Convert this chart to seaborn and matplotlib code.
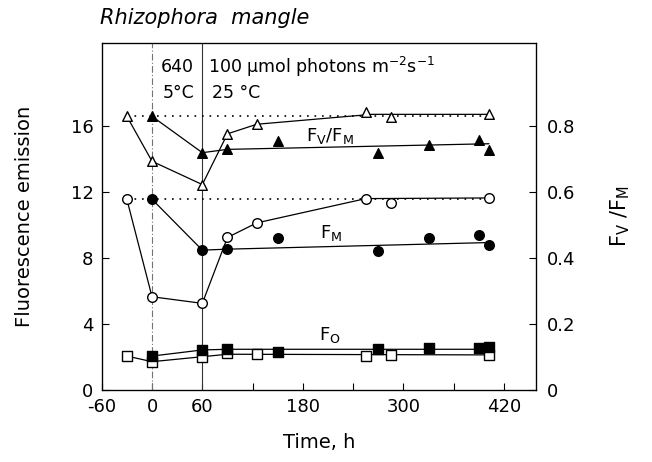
import matplotlib
matplotlib.use("Agg")
import matplotlib.pyplot as plt
import seaborn as sns
import pandas as pd

# ---- data, left-axis units ----
# Fv/Fm shown on left scale (= right value * 20)
fvfm_open_x = [-30, 0, 60, 90, 125, 255, 285, 402]
fvfm_open_y = [16.56, 13.84, 12.43, 15.5, 16.08, 16.82, 16.51, 16.68]
fvfm_open_line_x = [-30, 0, 60, 90, 125, 262, 402]
fvfm_open_line_y = [16.56, 13.84, 12.43, 15.5, 16.08, 16.68, 16.68]

fvfm_fill_x = [0, 60, 90, 150, 270, 330, 390, 402]
fvfm_fill_y = [16.56, 14.36, 14.56, 15.05, 14.34, 14.85, 15.1, 14.5]
fvfm_fill_line_x = [0, 60, 90, 402]
fvfm_fill_line_y = [16.56, 14.36, 14.56, 14.9]

fm_open_x = [-30, 0, 60, 90, 125, 255, 285, 402]
fm_open_y = [11.54, 5.64, 5.24, 9.23, 10.11, 11.54, 11.32, 11.62]
fm_open_line_x = [-30, 0, 60, 90, 125, 255, 402]
fm_open_line_y = [11.54, 5.64, 5.24, 9.23, 10.11, 11.58, 11.62]

fm_fill_x = [0, 60, 90, 150, 270, 330, 390, 402]
fm_fill_y = [11.54, 8.46, 8.52, 9.2, 8.4, 9.2, 9.37, 8.76]
fm_fill_line_x = [0, 60, 90, 402]
fm_fill_line_y = [11.54, 8.46, 8.52, 8.92]

f0_open_x = [-30, 0, 60, 90, 125, 255, 285, 402]
f0_open_y = [2.05, 1.71, 2.01, 2.22, 2.16, 2.05, 2.11, 2.11]
f0_open_line_x = [-30, 0, 60, 90, 402]
f0_open_line_y = [2.05, 1.71, 2.01, 2.16, 2.12]

f0_fill_x = [0, 60, 90, 150, 270, 330, 390, 402]
f0_fill_y = [2.05, 2.42, 2.46, 2.31, 2.46, 2.52, 2.52, 2.58]
f0_fill_line_x = [0, 60, 90, 402]
f0_fill_line_y = [2.05, 2.42, 2.46, 2.46]

ref_x = [-30, 402]
fvfm_ref_y = [16.56, 16.56]
fm_ref_y = [11.54, 11.54]

x_ticks = [-60, 0, 60, 120, 180, 240, 300, 360, 420]
x_tick_labels = ["-60", "0", "60", "", "180", "", "300", "", "420"]
y_ticks = [0, 4, 8, 12, 16]
y2_ticks = [0, 0.2, 0.4, 0.6, 0.8]
y2_tick_labels = ["0", "0.2", "0.4", "0.6", "0.8"]

# ---- plotting ----
sns.set_style("ticks")
plt.rcParams["font.family"] = ["DejaVu Sans"]
plt.rcParams["xtick.direction"] = "in"
plt.rcParams["ytick.direction"] = "in"
plt.rcParams["text.color"] = "black"
plt.rcParams["axes.labelcolor"] = "black"
plt.rcParams["xtick.color"] = "black"
plt.rcParams["ytick.color"] = "black"
plt.rcParams["axes.edgecolor"] = "black"

fig = plt.figure(figsize=(6.52, 4.62), dpi=100)
ax = fig.add_axes([0.156, 0.156, 0.666, 0.751])

lw = 0.9
ax.axvline(0, color="0.45", lw=0.8, ls=(0, (6, 2, 1, 2)), zorder=1)
ax.axvline(60, color="0.2", lw=0.8, zorder=1)

# dotted reference lines
for yy in (fvfm_ref_y, fm_ref_y):
    sns.lineplot(x=ref_x, y=yy, ax=ax, color="black", lw=1.2,
                 linestyle=(0, (1, 3.5)), sort=False, estimator=None, zorder=2)

lines = [
    (fvfm_open_line_x, fvfm_open_line_y), (fvfm_fill_line_x, fvfm_fill_line_y),
    (fm_open_line_x, fm_open_line_y), (fm_fill_line_x, fm_fill_line_y),
    (f0_open_line_x, f0_open_line_y), (f0_fill_line_x, f0_fill_line_y),
]
for lx, ly in lines:
    sns.lineplot(x=lx, y=ly, ax=ax, color="black", lw=lw, sort=False,
                 estimator=None, zorder=3)

pts = [
    (fvfm_open_x, fvfm_open_y, "^", "white"),
    (fvfm_fill_x, fvfm_fill_y, "^", "black"),
    (fm_open_x, fm_open_y, "o", "white"),
    (fm_fill_x, fm_fill_y, "o", "black"),
    (f0_open_x, f0_open_y, "s", "white"),
    (f0_fill_x, f0_fill_y, "s", "black"),
]
for px, py, m, fc in pts:
    sns.scatterplot(x=px, y=py, ax=ax, marker=m, s=48, color=fc,
                    edgecolor="black", linewidth=1.0, zorder=4, legend=False)

ax.set_xlim(-60, 458)
ax.set_ylim(0, 21)
ax.set_xticks(x_ticks)
ax.set_xticklabels(x_tick_labels, fontsize=13)
ax.set_yticks(y_ticks)
ax.set_yticklabels([str(v) for v in y_ticks], fontsize=13)
ax.tick_params(axis="both", length=5, width=0.8, pad=6)
for s in ax.spines.values():
    s.set_linewidth(0.9)
    s.set_visible(True)

ax.set_xlabel("Time, h", fontsize=14, labelpad=12)
ax.set_ylabel("Fluorescence emission", fontsize=14, labelpad=26)

ax2 = ax.twinx()
ax2.set_ylim(0, 21 / 20)
ax2.set_yticks(y2_ticks)
ax2.set_yticklabels(y2_tick_labels, fontsize=13)
ax2.tick_params(axis="y", length=5, width=0.8, pad=8, direction="in")
ax2.set_ylabel("F$_\\mathregular{V}$ /F$_\\mathregular{M}$", fontsize=15, labelpad=24)

# annotations
ax.text(212, 15.35, "F$_\\mathregular{V}$/F$_\\mathregular{M}$", fontsize=13, ha="center", va="center")
ax.text(214, 9.5, "F$_\\mathregular{M}$", fontsize=13, ha="center", va="center")
ax.text(212, 3.3, "F$_\\mathregular{O}$", fontsize=13, ha="center", va="center")

ax.text(10, 19.55, "640", fontsize=12.5, ha="left", va="center")
ax.text(13, 18.0, "5°C", fontsize=12.5, ha="left", va="center")
ax.text(67, 19.55, "100 µmol photons m$^{-2}$s$^{-1}$", fontsize=12.5, ha="left", va="center")
ax.text(72, 18.0, "25 °C", fontsize=12.5, ha="left", va="center")

fig.text(0.153, 0.962, "Rhizophora  mangle", fontsize=15, style="italic",
         ha="left", va="center")

fig.savefig("out.png", dpi=100)
